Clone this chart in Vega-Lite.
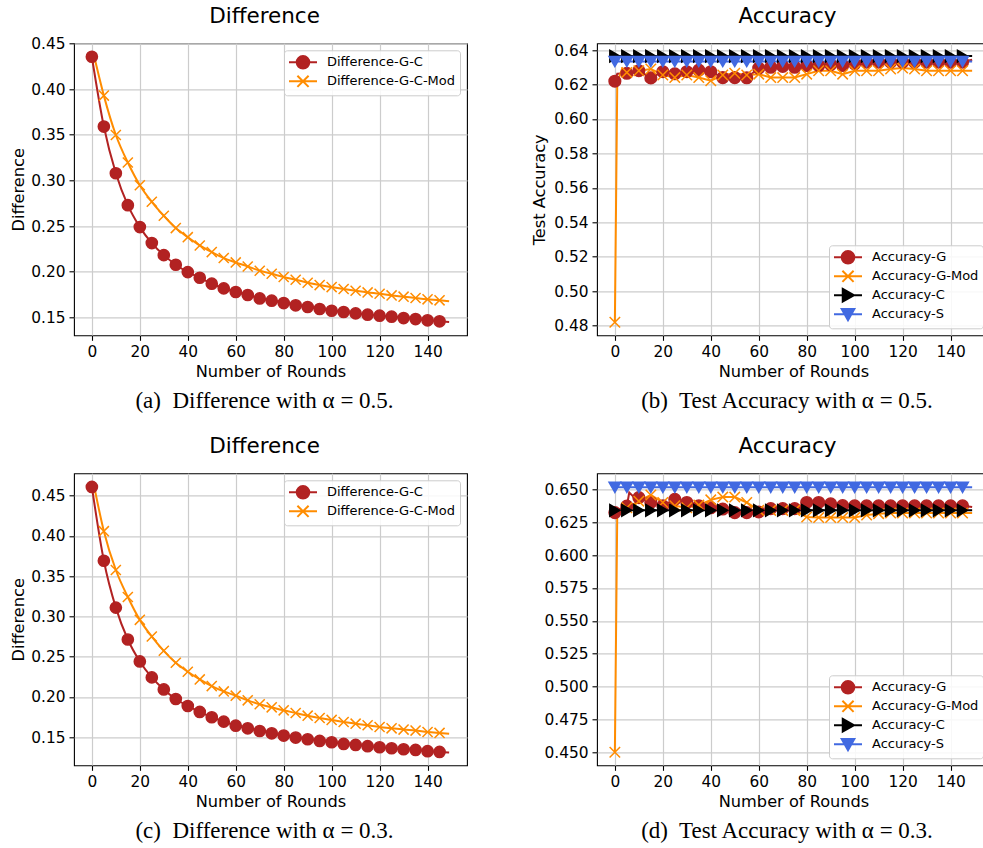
{
  "$schema": "https://vega.github.io/schema/vega-lite/v6.json",
  "autosize": {"type": "none"},
  "padding": {"left": 74, "top": 43.3, "right": 909, "bottom": 805},
  "background": "white",
  "datasets": {
    "diffA": [
      {"r": 0, "s": "Difference-G-C", "v": 0.4354}, {"r": 5, "s": "Difference-G-C", "v": 0.3589}, {"r": 10, "s": "Difference-G-C", "v": 0.3078}, {"r": 15, "s": "Difference-G-C", "v": 0.2728}, {"r": 20, "s": "Difference-G-C", "v": 0.2488}, {"r": 25, "s": "Difference-G-C", "v": 0.2313}, {"r": 30, "s": "Difference-G-C", "v": 0.2181}, {"r": 35, "s": "Difference-G-C", "v": 0.2076}, {"r": 40, "s": "Difference-G-C", "v": 0.1995}, {"r": 45, "s": "Difference-G-C", "v": 0.1933}, {"r": 50, "s": "Difference-G-C", "v": 0.1868}, {"r": 55, "s": "Difference-G-C", "v": 0.1817}, {"r": 60, "s": "Difference-G-C", "v": 0.1777}, {"r": 65, "s": "Difference-G-C", "v": 0.1744}, {"r": 70, "s": "Difference-G-C", "v": 0.1707}, {"r": 75, "s": "Difference-G-C", "v": 0.1682}, {"r": 80, "s": "Difference-G-C", "v": 0.1656}, {"r": 85, "s": "Difference-G-C", "v": 0.1631}, {"r": 90, "s": "Difference-G-C", "v": 0.1613}, {"r": 95, "s": "Difference-G-C", "v": 0.1591}, {"r": 100, "s": "Difference-G-C", "v": 0.1572}, {"r": 105, "s": "Difference-G-C", "v": 0.1558}, {"r": 110, "s": "Difference-G-C", "v": 0.1543}, {"r": 115, "s": "Difference-G-C", "v": 0.1529}, {"r": 120, "s": "Difference-G-C", "v": 0.1518}, {"r": 125, "s": "Difference-G-C", "v": 0.1507}, {"r": 130, "s": "Difference-G-C", "v": 0.1492}, {"r": 135, "s": "Difference-G-C", "v": 0.1481}, {"r": 140, "s": "Difference-G-C", "v": 0.1467}, {"r": 145, "s": "Difference-G-C", "v": 0.1456}, {"r": 149, "s": "Difference-G-C", "v": 0.1449},
      {"r": 1, "s": "Difference-G-C-Mod", "v": 0.4354}, {"r": 5, "s": "Difference-G-C-Mod", "v": 0.3928}, {"r": 10, "s": "Difference-G-C-Mod", "v": 0.3497}, {"r": 15, "s": "Difference-G-C-Mod", "v": 0.3195}, {"r": 20, "s": "Difference-G-C-Mod", "v": 0.2947}, {"r": 25, "s": "Difference-G-C-Mod", "v": 0.2765}, {"r": 30, "s": "Difference-G-C-Mod", "v": 0.2612}, {"r": 35, "s": "Difference-G-C-Mod", "v": 0.2477}, {"r": 40, "s": "Difference-G-C-Mod", "v": 0.2378}, {"r": 45, "s": "Difference-G-C-Mod", "v": 0.2287}, {"r": 50, "s": "Difference-G-C-Mod", "v": 0.2214}, {"r": 55, "s": "Difference-G-C-Mod", "v": 0.2149}, {"r": 60, "s": "Difference-G-C-Mod", "v": 0.2101}, {"r": 65, "s": "Difference-G-C-Mod", "v": 0.2057}, {"r": 70, "s": "Difference-G-C-Mod", "v": 0.2010}, {"r": 75, "s": "Difference-G-C-Mod", "v": 0.1977}, {"r": 80, "s": "Difference-G-C-Mod", "v": 0.1941}, {"r": 85, "s": "Difference-G-C-Mod", "v": 0.1912}, {"r": 90, "s": "Difference-G-C-Mod", "v": 0.1879}, {"r": 95, "s": "Difference-G-C-Mod", "v": 0.1853}, {"r": 100, "s": "Difference-G-C-Mod", "v": 0.1831}, {"r": 105, "s": "Difference-G-C-Mod", "v": 0.1810}, {"r": 110, "s": "Difference-G-C-Mod", "v": 0.1791}, {"r": 115, "s": "Difference-G-C-Mod", "v": 0.1773}, {"r": 120, "s": "Difference-G-C-Mod", "v": 0.1758}, {"r": 125, "s": "Difference-G-C-Mod", "v": 0.1740}, {"r": 130, "s": "Difference-G-C-Mod", "v": 0.1726}, {"r": 135, "s": "Difference-G-C-Mod", "v": 0.1711}, {"r": 140, "s": "Difference-G-C-Mod", "v": 0.1697}, {"r": 145, "s": "Difference-G-C-Mod", "v": 0.1686}, {"r": 149, "s": "Difference-G-C-Mod", "v": 0.1675}
    ],
    "diffC": [
      {"r": 0, "s": "Difference-G-C", "v": 0.4607}, {"r": 5, "s": "Difference-G-C", "v": 0.3691}, {"r": 10, "s": "Difference-G-C", "v": 0.3109}, {"r": 15, "s": "Difference-G-C", "v": 0.2713}, {"r": 20, "s": "Difference-G-C", "v": 0.2441}, {"r": 25, "s": "Difference-G-C", "v": 0.2243}, {"r": 30, "s": "Difference-G-C", "v": 0.2094}, {"r": 35, "s": "Difference-G-C", "v": 0.1975}, {"r": 40, "s": "Difference-G-C", "v": 0.1888}, {"r": 45, "s": "Difference-G-C", "v": 0.1814}, {"r": 50, "s": "Difference-G-C", "v": 0.1748}, {"r": 55, "s": "Difference-G-C", "v": 0.1694}, {"r": 60, "s": "Difference-G-C", "v": 0.1644}, {"r": 65, "s": "Difference-G-C", "v": 0.1611}, {"r": 70, "s": "Difference-G-C", "v": 0.1578}, {"r": 75, "s": "Difference-G-C", "v": 0.1549}, {"r": 80, "s": "Difference-G-C", "v": 0.1521}, {"r": 85, "s": "Difference-G-C", "v": 0.1496}, {"r": 90, "s": "Difference-G-C", "v": 0.1475}, {"r": 95, "s": "Difference-G-C", "v": 0.1454}, {"r": 100, "s": "Difference-G-C", "v": 0.1438}, {"r": 105, "s": "Difference-G-C", "v": 0.1417}, {"r": 110, "s": "Difference-G-C", "v": 0.1405}, {"r": 115, "s": "Difference-G-C", "v": 0.1389}, {"r": 120, "s": "Difference-G-C", "v": 0.1376}, {"r": 125, "s": "Difference-G-C", "v": 0.1364}, {"r": 130, "s": "Difference-G-C", "v": 0.1351}, {"r": 135, "s": "Difference-G-C", "v": 0.1343}, {"r": 140, "s": "Difference-G-C", "v": 0.1327}, {"r": 145, "s": "Difference-G-C", "v": 0.1318}, {"r": 149, "s": "Difference-G-C", "v": 0.1310},
      {"r": 1, "s": "Difference-G-C-Mod", "v": 0.4607}, {"r": 5, "s": "Difference-G-C-Mod", "v": 0.4058}, {"r": 10, "s": "Difference-G-C-Mod", "v": 0.3576}, {"r": 15, "s": "Difference-G-C-Mod", "v": 0.3241}, {"r": 20, "s": "Difference-G-C-Mod", "v": 0.2957}, {"r": 25, "s": "Difference-G-C-Mod", "v": 0.2750}, {"r": 30, "s": "Difference-G-C-Mod", "v": 0.2573}, {"r": 35, "s": "Difference-G-C-Mod", "v": 0.2424}, {"r": 40, "s": "Difference-G-C-Mod", "v": 0.2313}, {"r": 45, "s": "Difference-G-C-Mod", "v": 0.2218}, {"r": 50, "s": "Difference-G-C-Mod", "v": 0.2135}, {"r": 55, "s": "Difference-G-C-Mod", "v": 0.2069}, {"r": 60, "s": "Difference-G-C-Mod", "v": 0.2016}, {"r": 65, "s": "Difference-G-C-Mod", "v": 0.1958}, {"r": 70, "s": "Difference-G-C-Mod", "v": 0.1909}, {"r": 75, "s": "Difference-G-C-Mod", "v": 0.1871}, {"r": 80, "s": "Difference-G-C-Mod", "v": 0.1834}, {"r": 85, "s": "Difference-G-C-Mod", "v": 0.1801}, {"r": 90, "s": "Difference-G-C-Mod", "v": 0.1768}, {"r": 95, "s": "Difference-G-C-Mod", "v": 0.1739}, {"r": 100, "s": "Difference-G-C-Mod", "v": 0.1715}, {"r": 105, "s": "Difference-G-C-Mod", "v": 0.1690}, {"r": 110, "s": "Difference-G-C-Mod", "v": 0.1669}, {"r": 115, "s": "Difference-G-C-Mod", "v": 0.1649}, {"r": 120, "s": "Difference-G-C-Mod", "v": 0.1628}, {"r": 125, "s": "Difference-G-C-Mod", "v": 0.1611}, {"r": 130, "s": "Difference-G-C-Mod", "v": 0.1595}, {"r": 135, "s": "Difference-G-C-Mod", "v": 0.1583}, {"r": 140, "s": "Difference-G-C-Mod", "v": 0.1566}, {"r": 145, "s": "Difference-G-C-Mod", "v": 0.1554}, {"r": 149, "s": "Difference-G-C-Mod", "v": 0.1545}
    ],
    "accB": [
      {"r": 0, "s": "Accuracy-G", "v": 0.6219}, {"r": 1, "s": "Accuracy-G", "v": 0.6262}, {"r": 5, "s": "Accuracy-G", "v": 0.6265}, {"r": 10, "s": "Accuracy-G", "v": 0.628}, {"r": 15, "s": "Accuracy-G", "v": 0.6238}, {"r": 20, "s": "Accuracy-G", "v": 0.6274}, {"r": 25, "s": "Accuracy-G", "v": 0.6262}, {"r": 30, "s": "Accuracy-G", "v": 0.6274}, {"r": 35, "s": "Accuracy-G", "v": 0.6283}, {"r": 40, "s": "Accuracy-G", "v": 0.6274}, {"r": 45, "s": "Accuracy-G", "v": 0.624}, {"r": 50, "s": "Accuracy-G", "v": 0.624}, {"r": 55, "s": "Accuracy-G", "v": 0.6239}, {"r": 60, "s": "Accuracy-G", "v": 0.6295}, {"r": 65, "s": "Accuracy-G", "v": 0.630}, {"r": 70, "s": "Accuracy-G", "v": 0.6305}, {"r": 75, "s": "Accuracy-G", "v": 0.630}, {"r": 80, "s": "Accuracy-G", "v": 0.631}, {"r": 85, "s": "Accuracy-G", "v": 0.631}, {"r": 90, "s": "Accuracy-G", "v": 0.6315}, {"r": 95, "s": "Accuracy-G", "v": 0.631}, {"r": 100, "s": "Accuracy-G", "v": 0.632}, {"r": 105, "s": "Accuracy-G", "v": 0.633}, {"r": 110, "s": "Accuracy-G", "v": 0.633}, {"r": 115, "s": "Accuracy-G", "v": 0.633}, {"r": 120, "s": "Accuracy-G", "v": 0.633}, {"r": 125, "s": "Accuracy-G", "v": 0.633}, {"r": 130, "s": "Accuracy-G", "v": 0.633}, {"r": 135, "s": "Accuracy-G", "v": 0.633}, {"r": 140, "s": "Accuracy-G", "v": 0.633}, {"r": 145, "s": "Accuracy-G", "v": 0.633}, {"r": 149, "s": "Accuracy-G", "v": 0.6344},
      {"r": 0, "s": "Accuracy-G-Mod", "v": 0.482}, {"r": 1, "s": "Accuracy-G-Mod", "v": 0.621}, {"r": 3, "s": "Accuracy-G-Mod", "v": 0.629}, {"r": 5, "s": "Accuracy-G-Mod", "v": 0.627}, {"r": 10, "s": "Accuracy-G-Mod", "v": 0.628}, {"r": 15, "s": "Accuracy-G-Mod", "v": 0.629}, {"r": 20, "s": "Accuracy-G-Mod", "v": 0.6255}, {"r": 25, "s": "Accuracy-G-Mod", "v": 0.624}, {"r": 30, "s": "Accuracy-G-Mod", "v": 0.6255}, {"r": 35, "s": "Accuracy-G-Mod", "v": 0.624}, {"r": 40, "s": "Accuracy-G-Mod", "v": 0.6222}, {"r": 45, "s": "Accuracy-G-Mod", "v": 0.6255}, {"r": 50, "s": "Accuracy-G-Mod", "v": 0.6265}, {"r": 55, "s": "Accuracy-G-Mod", "v": 0.6255}, {"r": 60, "s": "Accuracy-G-Mod", "v": 0.626}, {"r": 65, "s": "Accuracy-G-Mod", "v": 0.624}, {"r": 70, "s": "Accuracy-G-Mod", "v": 0.624}, {"r": 75, "s": "Accuracy-G-Mod", "v": 0.624}, {"r": 80, "s": "Accuracy-G-Mod", "v": 0.626}, {"r": 85, "s": "Accuracy-G-Mod", "v": 0.628}, {"r": 90, "s": "Accuracy-G-Mod", "v": 0.628}, {"r": 95, "s": "Accuracy-G-Mod", "v": 0.626}, {"r": 100, "s": "Accuracy-G-Mod", "v": 0.628}, {"r": 105, "s": "Accuracy-G-Mod", "v": 0.628}, {"r": 110, "s": "Accuracy-G-Mod", "v": 0.628}, {"r": 115, "s": "Accuracy-G-Mod", "v": 0.629}, {"r": 120, "s": "Accuracy-G-Mod", "v": 0.6295}, {"r": 125, "s": "Accuracy-G-Mod", "v": 0.629}, {"r": 130, "s": "Accuracy-G-Mod", "v": 0.628}, {"r": 135, "s": "Accuracy-G-Mod", "v": 0.628}, {"r": 140, "s": "Accuracy-G-Mod", "v": 0.628}, {"r": 145, "s": "Accuracy-G-Mod", "v": 0.628}, {"r": 149, "s": "Accuracy-G-Mod", "v": 0.628},
      {"r": 0, "s": "Accuracy-C", "v": 0.6365}, {"r": 5, "s": "Accuracy-C", "v": 0.6365}, {"r": 10, "s": "Accuracy-C", "v": 0.6365}, {"r": 15, "s": "Accuracy-C", "v": 0.6365}, {"r": 20, "s": "Accuracy-C", "v": 0.6365}, {"r": 25, "s": "Accuracy-C", "v": 0.6365}, {"r": 30, "s": "Accuracy-C", "v": 0.6365}, {"r": 35, "s": "Accuracy-C", "v": 0.6365}, {"r": 40, "s": "Accuracy-C", "v": 0.6365}, {"r": 45, "s": "Accuracy-C", "v": 0.6365}, {"r": 50, "s": "Accuracy-C", "v": 0.6365}, {"r": 55, "s": "Accuracy-C", "v": 0.6365}, {"r": 60, "s": "Accuracy-C", "v": 0.6365}, {"r": 65, "s": "Accuracy-C", "v": 0.6365}, {"r": 70, "s": "Accuracy-C", "v": 0.6365}, {"r": 75, "s": "Accuracy-C", "v": 0.6365}, {"r": 80, "s": "Accuracy-C", "v": 0.6365}, {"r": 85, "s": "Accuracy-C", "v": 0.6365}, {"r": 90, "s": "Accuracy-C", "v": 0.6365}, {"r": 95, "s": "Accuracy-C", "v": 0.6365}, {"r": 100, "s": "Accuracy-C", "v": 0.6365}, {"r": 105, "s": "Accuracy-C", "v": 0.6365}, {"r": 110, "s": "Accuracy-C", "v": 0.6365}, {"r": 115, "s": "Accuracy-C", "v": 0.6365}, {"r": 120, "s": "Accuracy-C", "v": 0.6365}, {"r": 125, "s": "Accuracy-C", "v": 0.6365}, {"r": 130, "s": "Accuracy-C", "v": 0.6365}, {"r": 135, "s": "Accuracy-C", "v": 0.6365}, {"r": 140, "s": "Accuracy-C", "v": 0.6365}, {"r": 145, "s": "Accuracy-C", "v": 0.6365}, {"r": 149, "s": "Accuracy-C", "v": 0.6365},
      {"r": 0, "s": "Accuracy-S", "v": 0.6333}, {"r": 5, "s": "Accuracy-S", "v": 0.6333}, {"r": 10, "s": "Accuracy-S", "v": 0.6333}, {"r": 15, "s": "Accuracy-S", "v": 0.6333}, {"r": 20, "s": "Accuracy-S", "v": 0.6333}, {"r": 25, "s": "Accuracy-S", "v": 0.6333}, {"r": 30, "s": "Accuracy-S", "v": 0.6333}, {"r": 35, "s": "Accuracy-S", "v": 0.6333}, {"r": 40, "s": "Accuracy-S", "v": 0.6333}, {"r": 45, "s": "Accuracy-S", "v": 0.6333}, {"r": 50, "s": "Accuracy-S", "v": 0.6333}, {"r": 55, "s": "Accuracy-S", "v": 0.6333}, {"r": 60, "s": "Accuracy-S", "v": 0.6333}, {"r": 65, "s": "Accuracy-S", "v": 0.6333}, {"r": 70, "s": "Accuracy-S", "v": 0.6333}, {"r": 75, "s": "Accuracy-S", "v": 0.6333}, {"r": 80, "s": "Accuracy-S", "v": 0.6333}, {"r": 85, "s": "Accuracy-S", "v": 0.6333}, {"r": 90, "s": "Accuracy-S", "v": 0.6333}, {"r": 95, "s": "Accuracy-S", "v": 0.6333}, {"r": 100, "s": "Accuracy-S", "v": 0.6333}, {"r": 105, "s": "Accuracy-S", "v": 0.6333}, {"r": 110, "s": "Accuracy-S", "v": 0.6333}, {"r": 115, "s": "Accuracy-S", "v": 0.6333}, {"r": 120, "s": "Accuracy-S", "v": 0.6333}, {"r": 125, "s": "Accuracy-S", "v": 0.6333}, {"r": 130, "s": "Accuracy-S", "v": 0.6333}, {"r": 135, "s": "Accuracy-S", "v": 0.6333}, {"r": 140, "s": "Accuracy-S", "v": 0.6333}, {"r": 145, "s": "Accuracy-S", "v": 0.6333}, {"r": 149, "s": "Accuracy-S", "v": 0.6333}
    ],
    "accD": [
      {"r": 0, "s": "Accuracy-G", "v": 0.6323}, {"r": 3, "s": "Accuracy-G", "v": 0.636}, {"r": 5, "s": "Accuracy-G", "v": 0.6372}, {"r": 6, "s": "Accuracy-G", "v": 0.6475}, {"r": 8, "s": "Accuracy-G", "v": 0.644}, {"r": 10, "s": "Accuracy-G", "v": 0.6437}, {"r": 15, "s": "Accuracy-G", "v": 0.640}, {"r": 20, "s": "Accuracy-G", "v": 0.6375}, {"r": 25, "s": "Accuracy-G", "v": 0.6424}, {"r": 30, "s": "Accuracy-G", "v": 0.640}, {"r": 35, "s": "Accuracy-G", "v": 0.6375}, {"r": 40, "s": "Accuracy-G", "v": 0.636}, {"r": 45, "s": "Accuracy-G", "v": 0.635}, {"r": 50, "s": "Accuracy-G", "v": 0.6323}, {"r": 55, "s": "Accuracy-G", "v": 0.6323}, {"r": 60, "s": "Accuracy-G", "v": 0.6328}, {"r": 65, "s": "Accuracy-G", "v": 0.6353}, {"r": 70, "s": "Accuracy-G", "v": 0.6353}, {"r": 75, "s": "Accuracy-G", "v": 0.6353}, {"r": 80, "s": "Accuracy-G", "v": 0.640}, {"r": 85, "s": "Accuracy-G", "v": 0.640}, {"r": 90, "s": "Accuracy-G", "v": 0.639}, {"r": 95, "s": "Accuracy-G", "v": 0.6376}, {"r": 100, "s": "Accuracy-G", "v": 0.6375}, {"r": 105, "s": "Accuracy-G", "v": 0.6375}, {"r": 110, "s": "Accuracy-G", "v": 0.6375}, {"r": 115, "s": "Accuracy-G", "v": 0.6375}, {"r": 120, "s": "Accuracy-G", "v": 0.6375}, {"r": 125, "s": "Accuracy-G", "v": 0.6375}, {"r": 130, "s": "Accuracy-G", "v": 0.6375}, {"r": 135, "s": "Accuracy-G", "v": 0.6375}, {"r": 140, "s": "Accuracy-G", "v": 0.6375}, {"r": 145, "s": "Accuracy-G", "v": 0.6375}, {"r": 149, "s": "Accuracy-G", "v": 0.6365},
      {"r": 0, "s": "Accuracy-G-Mod", "v": 0.45}, {"r": 1, "s": "Accuracy-G-Mod", "v": 0.632}, {"r": 5, "s": "Accuracy-G-Mod", "v": 0.636}, {"r": 10, "s": "Accuracy-G-Mod", "v": 0.641}, {"r": 15, "s": "Accuracy-G-Mod", "v": 0.6457}, {"r": 20, "s": "Accuracy-G-Mod", "v": 0.640}, {"r": 25, "s": "Accuracy-G-Mod", "v": 0.6375}, {"r": 30, "s": "Accuracy-G-Mod", "v": 0.636}, {"r": 35, "s": "Accuracy-G-Mod", "v": 0.638}, {"r": 40, "s": "Accuracy-G-Mod", "v": 0.642}, {"r": 45, "s": "Accuracy-G-Mod", "v": 0.6441}, {"r": 50, "s": "Accuracy-G-Mod", "v": 0.6441}, {"r": 55, "s": "Accuracy-G-Mod", "v": 0.640}, {"r": 60, "s": "Accuracy-G-Mod", "v": 0.634}, {"r": 65, "s": "Accuracy-G-Mod", "v": 0.634}, {"r": 70, "s": "Accuracy-G-Mod", "v": 0.634}, {"r": 75, "s": "Accuracy-G-Mod", "v": 0.634}, {"r": 80, "s": "Accuracy-G-Mod", "v": 0.629}, {"r": 85, "s": "Accuracy-G-Mod", "v": 0.6285}, {"r": 90, "s": "Accuracy-G-Mod", "v": 0.6285}, {"r": 95, "s": "Accuracy-G-Mod", "v": 0.6285}, {"r": 100, "s": "Accuracy-G-Mod", "v": 0.6285}, {"r": 105, "s": "Accuracy-G-Mod", "v": 0.6305}, {"r": 110, "s": "Accuracy-G-Mod", "v": 0.6315}, {"r": 115, "s": "Accuracy-G-Mod", "v": 0.632}, {"r": 120, "s": "Accuracy-G-Mod", "v": 0.632}, {"r": 125, "s": "Accuracy-G-Mod", "v": 0.632}, {"r": 130, "s": "Accuracy-G-Mod", "v": 0.632}, {"r": 135, "s": "Accuracy-G-Mod", "v": 0.632}, {"r": 140, "s": "Accuracy-G-Mod", "v": 0.632}, {"r": 145, "s": "Accuracy-G-Mod", "v": 0.632}, {"r": 149, "s": "Accuracy-G-Mod", "v": 0.632},
      {"r": 0, "s": "Accuracy-C", "v": 0.634}, {"r": 5, "s": "Accuracy-C", "v": 0.634}, {"r": 10, "s": "Accuracy-C", "v": 0.634}, {"r": 15, "s": "Accuracy-C", "v": 0.634}, {"r": 20, "s": "Accuracy-C", "v": 0.634}, {"r": 25, "s": "Accuracy-C", "v": 0.634}, {"r": 30, "s": "Accuracy-C", "v": 0.634}, {"r": 35, "s": "Accuracy-C", "v": 0.634}, {"r": 40, "s": "Accuracy-C", "v": 0.634}, {"r": 45, "s": "Accuracy-C", "v": 0.634}, {"r": 50, "s": "Accuracy-C", "v": 0.634}, {"r": 55, "s": "Accuracy-C", "v": 0.634}, {"r": 60, "s": "Accuracy-C", "v": 0.634}, {"r": 65, "s": "Accuracy-C", "v": 0.634}, {"r": 70, "s": "Accuracy-C", "v": 0.634}, {"r": 75, "s": "Accuracy-C", "v": 0.634}, {"r": 80, "s": "Accuracy-C", "v": 0.634}, {"r": 85, "s": "Accuracy-C", "v": 0.634}, {"r": 90, "s": "Accuracy-C", "v": 0.634}, {"r": 95, "s": "Accuracy-C", "v": 0.634}, {"r": 100, "s": "Accuracy-C", "v": 0.634}, {"r": 105, "s": "Accuracy-C", "v": 0.634}, {"r": 110, "s": "Accuracy-C", "v": 0.634}, {"r": 115, "s": "Accuracy-C", "v": 0.634}, {"r": 120, "s": "Accuracy-C", "v": 0.634}, {"r": 125, "s": "Accuracy-C", "v": 0.634}, {"r": 130, "s": "Accuracy-C", "v": 0.634}, {"r": 135, "s": "Accuracy-C", "v": 0.634}, {"r": 140, "s": "Accuracy-C", "v": 0.634}, {"r": 145, "s": "Accuracy-C", "v": 0.634}, {"r": 149, "s": "Accuracy-C", "v": 0.634},
      {"r": 0, "s": "Accuracy-S", "v": 0.6515}, {"r": 5, "s": "Accuracy-S", "v": 0.6515}, {"r": 10, "s": "Accuracy-S", "v": 0.6515}, {"r": 15, "s": "Accuracy-S", "v": 0.6515}, {"r": 20, "s": "Accuracy-S", "v": 0.6515}, {"r": 25, "s": "Accuracy-S", "v": 0.6515}, {"r": 30, "s": "Accuracy-S", "v": 0.6515}, {"r": 35, "s": "Accuracy-S", "v": 0.6515}, {"r": 40, "s": "Accuracy-S", "v": 0.6515}, {"r": 45, "s": "Accuracy-S", "v": 0.6515}, {"r": 50, "s": "Accuracy-S", "v": 0.6515}, {"r": 55, "s": "Accuracy-S", "v": 0.6515}, {"r": 60, "s": "Accuracy-S", "v": 0.6515}, {"r": 65, "s": "Accuracy-S", "v": 0.6515}, {"r": 70, "s": "Accuracy-S", "v": 0.6515}, {"r": 75, "s": "Accuracy-S", "v": 0.6515}, {"r": 80, "s": "Accuracy-S", "v": 0.6515}, {"r": 85, "s": "Accuracy-S", "v": 0.6515}, {"r": 90, "s": "Accuracy-S", "v": 0.6515}, {"r": 95, "s": "Accuracy-S", "v": 0.6515}, {"r": 100, "s": "Accuracy-S", "v": 0.6515}, {"r": 105, "s": "Accuracy-S", "v": 0.6515}, {"r": 110, "s": "Accuracy-S", "v": 0.6515}, {"r": 115, "s": "Accuracy-S", "v": 0.6515}, {"r": 120, "s": "Accuracy-S", "v": 0.6515}, {"r": 125, "s": "Accuracy-S", "v": 0.6515}, {"r": 130, "s": "Accuracy-S", "v": 0.6515}, {"r": 135, "s": "Accuracy-S", "v": 0.6515}, {"r": 140, "s": "Accuracy-S", "v": 0.6515}, {"r": 145, "s": "Accuracy-S", "v": 0.6515}, {"r": 149, "s": "Accuracy-S", "v": 0.6515}
    ]
  },
  "columns": 2,
  "bounds": "flush",
  "spacing": {"row": 138, "column": 130},
  "concat": [
    {
      "width": 393, "height": 292,
      "title": {"text": "Difference", "offset": 9},
      "layer": [
        {
          "data": {"name": "diffA"},
          "mark": {"type": "line", "strokeWidth": 2, "interpolate": "monotone"},
          "encoding": {
            "x": {"field": "r", "type": "quantitative", "scale": {"domain": [-7.45, 156.45], "nice": false, "zero": false},
                  "axis": {"orient": "bottom", "title": "Number of Rounds", "values": [0, 20, 40, 60, 80, 100, 120, 140], "titleX": 196.5, "titleY": 41.4, "titleBaseline": "alphabetic", "titleAlign": "center"}},
            "y": {"field": "v", "type": "quantitative", "scale": {"domain": [0.1303, 0.4501], "nice": false, "zero": false},
                  "axis": {"title": "Difference", "values": [0.15, 0.2, 0.25, 0.3, 0.35, 0.4, 0.45], "format": ".2f", "titleX": -51, "titleY": 146, "titleBaseline": "alphabetic", "titleAlign": "center"}},
            "color": {"field": "s", "type": "nominal", "scale": {"domain": ["Difference-G-C", "Difference-G-C-Mod"], "range": ["#b22222", "#ff8c00"]}, "legend": null}
          }
        },
        {
          "data": {"name": "diffA"},
          "transform": [{"filter": "datum.r % 5 == 0"}],
          "mark": {"type": "point", "size": 125, "strokeWidth": 1.5, "opacity": 1},
          "encoding": {
            "x": {"field": "r", "type": "quantitative", "scale": {"domain": [-7.45, 156.45], "nice": false, "zero": false}, "axis": null},
            "y": {"field": "v", "type": "quantitative", "scale": {"domain": [0.1303, 0.4501], "nice": false, "zero": false},
                  "axis": {"title": "Difference", "values": [0.15, 0.2, 0.25, 0.3, 0.35, 0.4, 0.45], "format": ".2f", "titleX": -51, "titleY": 146, "titleBaseline": "alphabetic", "titleAlign": "center"}},
            "fill": {"field": "s", "type": "nominal", "scale": {"domain": ["Difference-G-C", "Difference-G-C-Mod"], "range": ["#b22222", "#ff8c00"]}, "legend": null},
            "stroke": {"field": "s", "type": "nominal", "scale": {"domain": ["Difference-G-C", "Difference-G-C-Mod"], "range": ["#b22222", "#ff8c00"]}, "legend": null},
            "shape": {"field": "s", "type": "nominal", "scale": {"domain": ["Difference-G-C", "Difference-G-C-Mod"], "range": ["circle", "M-0.9,-0.9L0.9,0.9M-0.9,0.9L0.9,-0.9"]}, "legend": null}
          }
        },
        {
          "data": {"name": "diffA"},
          "transform": [{"filter": "datum.r < -100"}],
          "mark": {"type": "point", "strokeWidth": 2, "opacity": 1},
          "encoding": {
            "x": {"field": "r", "type": "quantitative", "scale": {"domain": [-7.45, 156.45], "nice": false, "zero": false},
                  "axis": {"orient": "bottom", "title": "(a)\u00a0 Difference with α = 0.5.", "labels": false, "ticks": false, "domain": false, "grid": false, "titleFont": "Liberation Serif", "titleFontSize": 23, "titleX": 190, "titleY": 72, "titleBaseline": "alphabetic", "titleAlign": "center"}},
            "fill": {"field": "s", "type": "nominal", "scale": {"domain": ["Difference-G-C", "Difference-G-C-Mod"], "range": ["#b22222", "#ff8c00"]}, "legend": {"title": null, "orient": "top-right"}},
            "stroke": {"field": "s", "type": "nominal", "scale": {"domain": ["Difference-G-C", "Difference-G-C-Mod"], "range": ["#b22222", "#ff8c00"]}},
            "shape": {"field": "s", "type": "nominal", "scale": {"domain": ["Difference-G-C", "Difference-G-C-Mod"], "range": ["M-2,0H2M0.9,0A0.9,0.9,0,1,1,-0.9,0A0.9,0.9,0,1,1,0.9,0Z", "M-2,0H2M-0.8,-0.8L0.8,0.8M-0.8,0.8L0.8,-0.8"]}}
          }
        }
      ],
      "resolve": {"scale": {"color": "independent", "fill": "independent", "stroke": "independent", "shape": "independent"}, "axis": {"x": "independent"}}
    },
    {
      "width": 393, "height": 292,
      "title": {"text": "Accuracy"},
      "layer": [
        {
          "data": {"name": "accB"},
          "mark": {"type": "line", "strokeWidth": 2},
          "encoding": {
            "x": {"field": "r", "type": "quantitative", "scale": {"domain": [-7.45, 156.45], "nice": false, "zero": false},
                  "axis": {"orient": "bottom", "title": "Number of Rounds", "values": [0, 20, 40, 60, 80, 100, 120, 140], "titleX": 196.5, "titleY": 41.4, "titleBaseline": "alphabetic", "titleAlign": "center"}},
            "y": {"field": "v", "type": "quantitative", "scale": {"domain": [0.4744, 0.6439], "nice": false, "zero": false},
                  "axis": {"title": "Test Accuracy", "values": [0.48, 0.5, 0.52, 0.54, 0.56, 0.58, 0.6, 0.62, 0.64], "format": ".2f", "titleX": -52.5, "titleY": 146, "titleBaseline": "alphabetic", "titleAlign": "center"}},
            "color": {"field": "s", "type": "nominal", "scale": {"domain": ["Accuracy-G", "Accuracy-G-Mod", "Accuracy-C", "Accuracy-S"], "range": ["#b22222", "#ff8c00", "#000000", "#4169e1"]}, "legend": null}
          }
        },
        {
          "data": {"name": "accB"},
          "transform": [{"filter": "datum.r % 5 == 0"}],
          "mark": {"type": "point", "size": 135, "strokeWidth": 1.5, "opacity": 1},
          "encoding": {
            "x": {"field": "r", "type": "quantitative", "scale": {"domain": [-7.45, 156.45], "nice": false, "zero": false}, "axis": null},
            "y": {"field": "v", "type": "quantitative", "scale": {"domain": [0.4744, 0.6439], "nice": false, "zero": false},
                  "axis": {"title": "Test Accuracy", "values": [0.48, 0.5, 0.52, 0.54, 0.56, 0.58, 0.6, 0.62, 0.64], "format": ".2f", "titleX": -52.5, "titleY": 146, "titleBaseline": "alphabetic", "titleAlign": "center"}},
            "fill": {"field": "s", "type": "nominal", "scale": {"domain": ["Accuracy-G", "Accuracy-G-Mod", "Accuracy-C", "Accuracy-S"], "range": ["#b22222", "#ff8c00", "#000000", "#4169e1"]}, "legend": null},
            "stroke": {"field": "s", "type": "nominal", "scale": {"domain": ["Accuracy-G", "Accuracy-G-Mod", "Accuracy-C", "Accuracy-S"], "range": ["#b22222", "#ff8c00", "#000000", "#4169e1"]}, "legend": null},
            "shape": {"field": "s", "type": "nominal", "scale": {"domain": ["Accuracy-G", "Accuracy-G-Mod", "Accuracy-C", "Accuracy-S"], "range": ["circle", "M-0.9,-0.9L0.9,0.9M-0.9,0.9L0.9,-0.9", "triangle-right", "triangle-down"]}, "legend": null}
          }
        },
        {
          "data": {"name": "accB"},
          "transform": [{"filter": "datum.r < -100"}],
          "mark": {"type": "point", "strokeWidth": 2, "opacity": 1},
          "encoding": {
            "x": {"field": "r", "type": "quantitative", "scale": {"domain": [-7.45, 156.45], "nice": false, "zero": false},
                  "axis": {"orient": "bottom", "title": "(b)\u00a0 Test Accuracy with α = 0.5.", "labels": false, "ticks": false, "domain": false, "grid": false, "titleFont": "Liberation Serif", "titleFontSize": 23, "titleX": 189.5, "titleY": 72, "titleBaseline": "alphabetic", "titleAlign": "center"}},
            "fill": {"field": "s", "type": "nominal", "scale": {"domain": ["Accuracy-G", "Accuracy-G-Mod", "Accuracy-C", "Accuracy-S"], "range": ["#b22222", "#ff8c00", "#000000", "#4169e1"]}, "legend": {"title": null, "orient": "bottom-right"}},
            "stroke": {"field": "s", "type": "nominal", "scale": {"domain": ["Accuracy-G", "Accuracy-G-Mod", "Accuracy-C", "Accuracy-S"], "range": ["#b22222", "#ff8c00", "#000000", "#4169e1"]}},
            "shape": {"field": "s", "type": "nominal", "scale": {"domain": ["Accuracy-G", "Accuracy-G-Mod", "Accuracy-C", "Accuracy-S"], "range": ["M-2,0H2M0.9,0A0.9,0.9,0,1,1,-0.9,0A0.9,0.9,0,1,1,0.9,0Z", "M-2,0H2M-0.8,-0.8L0.8,0.8M-0.8,0.8L0.8,-0.8", "M-2,0H2M-0.75,-0.9L0.85,0L-0.75,0.9Z", "M-2,0H2M-0.9,-0.75L0.9,-0.75L0,0.85Z"]}}
          }
        }
      ],
      "resolve": {"scale": {"color": "independent", "fill": "independent", "stroke": "independent", "shape": "independent"}, "axis": {"x": "independent"}}
    },
    {
      "width": 393, "height": 292,
      "title": {"text": "Difference"},
      "layer": [
        {
          "data": {"name": "diffC"},
          "mark": {"type": "line", "strokeWidth": 2, "interpolate": "monotone"},
          "encoding": {
            "x": {"field": "r", "type": "quantitative", "scale": {"domain": [-7.45, 156.45], "nice": false, "zero": false},
                  "axis": {"orient": "bottom", "title": "Number of Rounds", "values": [0, 20, 40, 60, 80, 100, 120, 140], "titleX": 196.5, "titleY": 41.4, "titleBaseline": "alphabetic", "titleAlign": "center"}},
            "y": {"field": "v", "type": "quantitative", "scale": {"domain": [0.1152, 0.4776], "nice": false, "zero": false},
                  "axis": {"title": "Difference", "values": [0.15, 0.2, 0.25, 0.3, 0.35, 0.4, 0.45], "format": ".2f", "titleX": -51, "titleY": 146, "titleBaseline": "alphabetic", "titleAlign": "center"}},
            "color": {"field": "s", "type": "nominal", "scale": {"domain": ["Difference-G-C", "Difference-G-C-Mod"], "range": ["#b22222", "#ff8c00"]}, "legend": null}
          }
        },
        {
          "data": {"name": "diffC"},
          "transform": [{"filter": "datum.r % 5 == 0"}],
          "mark": {"type": "point", "size": 125, "strokeWidth": 1.5, "opacity": 1},
          "encoding": {
            "x": {"field": "r", "type": "quantitative", "scale": {"domain": [-7.45, 156.45], "nice": false, "zero": false}, "axis": null},
            "y": {"field": "v", "type": "quantitative", "scale": {"domain": [0.1152, 0.4776], "nice": false, "zero": false},
                  "axis": {"title": "Difference", "values": [0.15, 0.2, 0.25, 0.3, 0.35, 0.4, 0.45], "format": ".2f", "titleX": -51, "titleY": 146, "titleBaseline": "alphabetic", "titleAlign": "center"}},
            "fill": {"field": "s", "type": "nominal", "scale": {"domain": ["Difference-G-C", "Difference-G-C-Mod"], "range": ["#b22222", "#ff8c00"]}, "legend": null},
            "stroke": {"field": "s", "type": "nominal", "scale": {"domain": ["Difference-G-C", "Difference-G-C-Mod"], "range": ["#b22222", "#ff8c00"]}, "legend": null},
            "shape": {"field": "s", "type": "nominal", "scale": {"domain": ["Difference-G-C", "Difference-G-C-Mod"], "range": ["circle", "M-0.9,-0.9L0.9,0.9M-0.9,0.9L0.9,-0.9"]}, "legend": null}
          }
        },
        {
          "data": {"name": "diffC"},
          "transform": [{"filter": "datum.r < -100"}],
          "mark": {"type": "point", "strokeWidth": 2, "opacity": 1},
          "encoding": {
            "x": {"field": "r", "type": "quantitative", "scale": {"domain": [-7.45, 156.45], "nice": false, "zero": false},
                  "axis": {"orient": "bottom", "title": "(c)\u00a0 Difference with α = 0.3.", "labels": false, "ticks": false, "domain": false, "grid": false, "titleFont": "Liberation Serif", "titleFontSize": 23, "titleX": 190, "titleY": 72, "titleBaseline": "alphabetic", "titleAlign": "center"}},
            "fill": {"field": "s", "type": "nominal", "scale": {"domain": ["Difference-G-C", "Difference-G-C-Mod"], "range": ["#b22222", "#ff8c00"]}, "legend": {"title": null, "orient": "top-right"}},
            "stroke": {"field": "s", "type": "nominal", "scale": {"domain": ["Difference-G-C", "Difference-G-C-Mod"], "range": ["#b22222", "#ff8c00"]}},
            "shape": {"field": "s", "type": "nominal", "scale": {"domain": ["Difference-G-C", "Difference-G-C-Mod"], "range": ["M-2,0H2M0.9,0A0.9,0.9,0,1,1,-0.9,0A0.9,0.9,0,1,1,0.9,0Z", "M-2,0H2M-0.8,-0.8L0.8,0.8M-0.8,0.8L0.8,-0.8"]}}
          }
        }
      ],
      "resolve": {"scale": {"color": "independent", "fill": "independent", "stroke": "independent", "shape": "independent"}, "axis": {"x": "independent"}}
    },
    {
      "width": 393, "height": 292,
      "title": {"text": "Accuracy"},
      "layer": [
        {
          "data": {"name": "accD"},
          "mark": {"type": "line", "strokeWidth": 2},
          "encoding": {
            "x": {"field": "r", "type": "quantitative", "scale": {"domain": [-7.45, 156.45], "nice": false, "zero": false},
                  "axis": {"orient": "bottom", "title": "Number of Rounds", "values": [0, 20, 40, 60, 80, 100, 120, 140], "titleX": 196.5, "titleY": 41.4, "titleBaseline": "alphabetic", "titleAlign": "center"}},
            "y": {"field": "v", "type": "quantitative", "scale": {"domain": [0.4401, 0.6622], "nice": false, "zero": false},
                  "axis": {"title": null, "values": [0.45, 0.475, 0.5, 0.525, 0.55, 0.575, 0.6, 0.625, 0.65], "format": ".3f"}},
            "color": {"field": "s", "type": "nominal", "scale": {"domain": ["Accuracy-G", "Accuracy-G-Mod", "Accuracy-C", "Accuracy-S"], "range": ["#b22222", "#ff8c00", "#000000", "#4169e1"]}, "legend": null}
          }
        },
        {
          "data": {"name": "accD"},
          "transform": [{"filter": "datum.r % 5 == 0"}],
          "mark": {"type": "point", "size": 135, "strokeWidth": 1.5, "opacity": 1},
          "encoding": {
            "x": {"field": "r", "type": "quantitative", "scale": {"domain": [-7.45, 156.45], "nice": false, "zero": false}, "axis": null},
            "y": {"field": "v", "type": "quantitative", "scale": {"domain": [0.4401, 0.6622], "nice": false, "zero": false},
                  "axis": {"title": null, "values": [0.45, 0.475, 0.5, 0.525, 0.55, 0.575, 0.6, 0.625, 0.65], "format": ".3f"}},
            "fill": {"field": "s", "type": "nominal", "scale": {"domain": ["Accuracy-G", "Accuracy-G-Mod", "Accuracy-C", "Accuracy-S"], "range": ["#b22222", "#ff8c00", "#000000", "#4169e1"]}, "legend": null},
            "stroke": {"field": "s", "type": "nominal", "scale": {"domain": ["Accuracy-G", "Accuracy-G-Mod", "Accuracy-C", "Accuracy-S"], "range": ["#b22222", "#ff8c00", "#000000", "#4169e1"]}, "legend": null},
            "shape": {"field": "s", "type": "nominal", "scale": {"domain": ["Accuracy-G", "Accuracy-G-Mod", "Accuracy-C", "Accuracy-S"], "range": ["circle", "M-0.9,-0.9L0.9,0.9M-0.9,0.9L0.9,-0.9", "triangle-right", "triangle-down"]}, "legend": null}
          }
        },
        {
          "data": {"name": "accD"},
          "transform": [{"filter": "datum.r < -100"}],
          "mark": {"type": "point", "strokeWidth": 2, "opacity": 1},
          "encoding": {
            "x": {"field": "r", "type": "quantitative", "scale": {"domain": [-7.45, 156.45], "nice": false, "zero": false},
                  "axis": {"orient": "bottom", "title": "(d)\u00a0 Test Accuracy with α = 0.3.", "labels": false, "ticks": false, "domain": false, "grid": false, "titleFont": "Liberation Serif", "titleFontSize": 23, "titleX": 189.5, "titleY": 72, "titleBaseline": "alphabetic", "titleAlign": "center"}},
            "fill": {"field": "s", "type": "nominal", "scale": {"domain": ["Accuracy-G", "Accuracy-G-Mod", "Accuracy-C", "Accuracy-S"], "range": ["#b22222", "#ff8c00", "#000000", "#4169e1"]}, "legend": {"title": null, "orient": "bottom-right"}},
            "stroke": {"field": "s", "type": "nominal", "scale": {"domain": ["Accuracy-G", "Accuracy-G-Mod", "Accuracy-C", "Accuracy-S"], "range": ["#b22222", "#ff8c00", "#000000", "#4169e1"]}},
            "shape": {"field": "s", "type": "nominal", "scale": {"domain": ["Accuracy-G", "Accuracy-G-Mod", "Accuracy-C", "Accuracy-S"], "range": ["M-2,0H2M0.9,0A0.9,0.9,0,1,1,-0.9,0A0.9,0.9,0,1,1,0.9,0Z", "M-2,0H2M-0.8,-0.8L0.8,0.8M-0.8,0.8L0.8,-0.8", "M-2,0H2M-0.75,-0.9L0.85,0L-0.75,0.9Z", "M-2,0H2M-0.9,-0.75L0.9,-0.75L0,0.85Z"]}}
          }
        }
      ],
      "resolve": {"scale": {"color": "independent", "fill": "independent", "stroke": "independent", "shape": "independent"}, "axis": {"x": "independent"}}
    }
  ],
  "config": {
    "font": "DejaVu Sans",
    "view": {"stroke": "#000000", "strokeWidth": 1.1},
    "axis": {
      "domain": false, "grid": true, "gridColor": "#cccccc", "gridWidth": 1.2,
      "tickColor": "#000000", "tickSize": 5, "tickWidth": 1.1,
      "labelFont": "DejaVu Sans", "labelFontSize": 15.4, "labelColor": "#000000", "labelPadding": 4,
      "labelOverlap": false, "labelFlush": false, "labelBound": false,
      "titleFont": "DejaVu Sans", "titleFontSize": 16.2, "titleFontWeight": "normal", "titleColor": "#000000"
    },
    "legend": {
      "offset": 7, "padding": 4, "symbolOffset": 7, "labelOffset": 16, "rowPadding": -2.1,
      "labelFont": "DejaVu Sans", "labelFontSize": 13, "labelColor": "#000000",
      "fillColor": "rgba(255,255,255,0.85)", "strokeColor": "#cccccc", "cornerRadius": 3,
      "symbolSize": 196, "symbolStrokeWidth": 2
    },
    "title": {
      "font": "DejaVu Sans", "fontSize": 21.5, "fontWeight": "normal", "color": "#000000",
      "anchor": "middle", "frame": "group", "offset": 16, "baseline": "alphabetic", "dx": -6
    }
  }
}
